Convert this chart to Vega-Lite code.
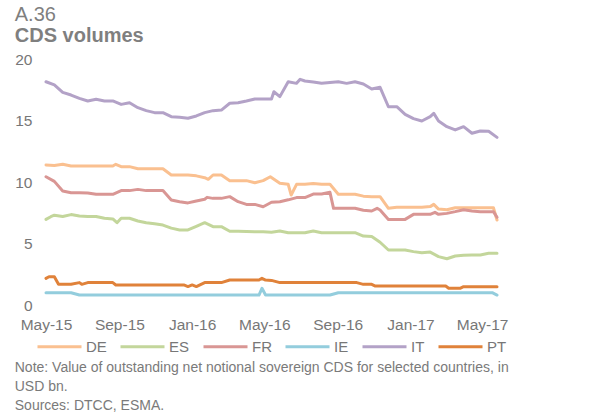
{
  "$schema": "https://vega.github.io/schema/vega-lite/v6.json",
  "background": "white",
  "padding": {"left": 14, "top": 5, "right": 5, "bottom": 0},
  "config": {
    "font": "Liberation Sans",
    "view": {"stroke": null},
    "concat": {"spacing": 0},
    "legend": {"layout": {"bottom": {"anchor": "middle"}}}
  },
  "title": {
    "text": ["Note: Value of outstanding net notional sovereign CDS for selected countries, in", "USD bn.", "Sources:  DTCC, ESMA."],
    "orient": "bottom",
    "anchor": "start",
    "frame": "bounds",
    "fontSize": 14,
    "fontWeight": "normal",
    "color": "#7a7a7a",
    "lineHeight": 19,
    "offset": 6
  },
  "vconcat": [
    {
      "title": {
        "text": "A.36",
        "subtitle": "CDS volumes",
        "anchor": "start",
        "frame": "bounds",
        "fontSize": 20,
        "fontWeight": "normal",
        "color": "#7f7f7f",
        "subtitleFontSize": 20,
        "subtitleFontWeight": "bold",
        "subtitleColor": "#7f7f7f",
        "subtitlePadding": 1,
        "offset": 6
      },
      "width": 451,
      "height": 246,
      "data": {
        "values": [
          {"d": "2015-05-01", "c": "IT", "v": 18.15}, {"d": "2015-05-15", "c": "IT", "v": 17.89}, {"d": "2015-05-29", "c": "IT", "v": 17.29}, {"d": "2015-06-12", "c": "IT", "v": 17.07}, {"d": "2015-06-26", "c": "IT", "v": 16.8}, {"d": "2015-07-10", "c": "IT", "v": 16.59}, {"d": "2015-07-24", "c": "IT", "v": 16.72}, {"d": "2015-08-07", "c": "IT", "v": 16.59}, {"d": "2015-08-21", "c": "IT", "v": 16.59}, {"d": "2015-09-04", "c": "IT", "v": 16.31}, {"d": "2015-09-18", "c": "IT", "v": 16.45}, {"d": "2015-10-02", "c": "IT", "v": 16.04}, {"d": "2015-10-16", "c": "IT", "v": 15.8}, {"d": "2015-10-30", "c": "IT", "v": 15.64}, {"d": "2015-11-13", "c": "IT", "v": 15.64}, {"d": "2015-11-27", "c": "IT", "v": 15.31}, {"d": "2015-12-11", "c": "IT", "v": 15.26}, {"d": "2015-12-25", "c": "IT", "v": 15.18}, {"d": "2016-01-08", "c": "IT", "v": 15.37}, {"d": "2016-01-22", "c": "IT", "v": 15.64}, {"d": "2016-02-05", "c": "IT", "v": 15.8}, {"d": "2016-02-19", "c": "IT", "v": 15.85}, {"d": "2016-03-04", "c": "IT", "v": 16.4}, {"d": "2016-03-18", "c": "IT", "v": 16.45}, {"d": "2016-04-01", "c": "IT", "v": 16.59}, {"d": "2016-04-15", "c": "IT", "v": 16.75}, {"d": "2016-04-29", "c": "IT", "v": 16.75}, {"d": "2016-05-13", "c": "IT", "v": 16.75}, {"d": "2016-05-17", "c": "IT", "v": 17.34}, {"d": "2016-05-27", "c": "IT", "v": 16.94}, {"d": "2016-06-10", "c": "IT", "v": 18.15}, {"d": "2016-06-24", "c": "IT", "v": 18.02}, {"d": "2016-06-30", "c": "IT", "v": 18.35}, {"d": "2016-07-08", "c": "IT", "v": 18.21}, {"d": "2016-07-22", "c": "IT", "v": 18.13}, {"d": "2016-08-05", "c": "IT", "v": 18.02}, {"d": "2016-08-19", "c": "IT", "v": 18.08}, {"d": "2016-09-02", "c": "IT", "v": 18.15}, {"d": "2016-09-16", "c": "IT", "v": 18.02}, {"d": "2016-09-30", "c": "IT", "v": 18.15}, {"d": "2016-10-14", "c": "IT", "v": 17.97}, {"d": "2016-10-28", "c": "IT", "v": 17.56}, {"d": "2016-11-11", "c": "IT", "v": 17.7}, {"d": "2016-11-25", "c": "IT", "v": 16.12}, {"d": "2016-12-09", "c": "IT", "v": 16.12}, {"d": "2016-12-23", "c": "IT", "v": 15.5}, {"d": "2017-01-06", "c": "IT", "v": 15.15}, {"d": "2017-01-20", "c": "IT", "v": 14.96}, {"d": "2017-02-03", "c": "IT", "v": 15.31}, {"d": "2017-02-09", "c": "IT", "v": 15.58}, {"d": "2017-02-17", "c": "IT", "v": 14.96}, {"d": "2017-03-03", "c": "IT", "v": 14.5}, {"d": "2017-03-17", "c": "IT", "v": 14.23}, {"d": "2017-03-31", "c": "IT", "v": 14.5}, {"d": "2017-04-14", "c": "IT", "v": 13.96}, {"d": "2017-04-28", "c": "IT", "v": 14.15}, {"d": "2017-05-12", "c": "IT", "v": 14.12}, {"d": "2017-05-26", "c": "IT", "v": 13.63},

          {"d": "2015-05-01", "c": "DE", "v": 11.38}, {"d": "2015-05-15", "c": "DE", "v": 11.35}, {"d": "2015-05-29", "c": "DE", "v": 11.44}, {"d": "2015-06-12", "c": "DE", "v": 11.3}, {"d": "2015-08-21", "c": "DE", "v": 11.3}, {"d": "2015-08-26", "c": "DE", "v": 11.44}, {"d": "2015-09-04", "c": "DE", "v": 11.25}, {"d": "2015-09-18", "c": "DE", "v": 11.25}, {"d": "2015-10-02", "c": "DE", "v": 11.08}, {"d": "2015-11-13", "c": "DE", "v": 11.08}, {"d": "2015-11-27", "c": "DE", "v": 10.57}, {"d": "2015-12-25", "c": "DE", "v": 10.57}, {"d": "2016-01-08", "c": "DE", "v": 10.5}, {"d": "2016-01-22", "c": "DE", "v": 10.35}, {"d": "2016-01-28", "c": "DE", "v": 10.22}, {"d": "2016-02-05", "c": "DE", "v": 10.57}, {"d": "2016-02-19", "c": "DE", "v": 10.57}, {"d": "2016-03-04", "c": "DE", "v": 10.11}, {"d": "2016-04-01", "c": "DE", "v": 10.11}, {"d": "2016-04-15", "c": "DE", "v": 9.94}, {"d": "2016-04-29", "c": "DE", "v": 10.11}, {"d": "2016-05-11", "c": "DE", "v": 10.43}, {"d": "2016-05-27", "c": "DE", "v": 9.9}, {"d": "2016-06-10", "c": "DE", "v": 9.81}, {"d": "2016-06-15", "c": "DE", "v": 8.94}, {"d": "2016-06-24", "c": "DE", "v": 9.81}, {"d": "2016-07-08", "c": "DE", "v": 9.81}, {"d": "2016-07-22", "c": "DE", "v": 9.88}, {"d": "2016-08-05", "c": "DE", "v": 9.81}, {"d": "2016-08-19", "c": "DE", "v": 9.81}, {"d": "2016-09-02", "c": "DE", "v": 9.0}, {"d": "2016-09-30", "c": "DE", "v": 9.0}, {"d": "2016-10-14", "c": "DE", "v": 8.85}, {"d": "2016-10-28", "c": "DE", "v": 8.81}, {"d": "2016-11-11", "c": "DE", "v": 8.81}, {"d": "2016-11-25", "c": "DE", "v": 7.86}, {"d": "2016-12-09", "c": "DE", "v": 7.94}, {"d": "2017-01-20", "c": "DE", "v": 7.94}, {"d": "2017-02-03", "c": "DE", "v": 8.0}, {"d": "2017-02-09", "c": "DE", "v": 8.18}, {"d": "2017-02-17", "c": "DE", "v": 7.8}, {"d": "2017-03-03", "c": "DE", "v": 7.75}, {"d": "2017-03-17", "c": "DE", "v": 7.91}, {"d": "2017-05-20", "c": "DE", "v": 7.91}, {"d": "2017-05-26", "c": "DE", "v": 6.91},

          {"d": "2015-05-01", "c": "FR", "v": 10.43}, {"d": "2015-05-15", "c": "FR", "v": 10.05}, {"d": "2015-05-29", "c": "FR", "v": 9.27}, {"d": "2015-06-12", "c": "FR", "v": 9.13}, {"d": "2015-06-26", "c": "FR", "v": 9.13}, {"d": "2015-07-10", "c": "FR", "v": 9.1}, {"d": "2015-07-24", "c": "FR", "v": 9.0}, {"d": "2015-08-21", "c": "FR", "v": 9.0}, {"d": "2015-09-04", "c": "FR", "v": 9.3}, {"d": "2015-09-18", "c": "FR", "v": 9.3}, {"d": "2015-10-02", "c": "FR", "v": 9.4}, {"d": "2015-10-16", "c": "FR", "v": 9.3}, {"d": "2015-11-13", "c": "FR", "v": 9.3}, {"d": "2015-11-27", "c": "FR", "v": 8.54}, {"d": "2015-12-11", "c": "FR", "v": 8.4}, {"d": "2015-12-25", "c": "FR", "v": 8.3}, {"d": "2016-01-08", "c": "FR", "v": 8.46}, {"d": "2016-01-22", "c": "FR", "v": 8.6}, {"d": "2016-01-26", "c": "FR", "v": 8.75}, {"d": "2016-02-05", "c": "FR", "v": 8.67}, {"d": "2016-02-19", "c": "FR", "v": 8.67}, {"d": "2016-03-04", "c": "FR", "v": 8.81}, {"d": "2016-03-18", "c": "FR", "v": 8.4}, {"d": "2016-04-01", "c": "FR", "v": 8.18}, {"d": "2016-04-15", "c": "FR", "v": 8.18}, {"d": "2016-04-29", "c": "FR", "v": 7.99}, {"d": "2016-05-13", "c": "FR", "v": 8.35}, {"d": "2016-05-27", "c": "FR", "v": 8.4}, {"d": "2016-06-10", "c": "FR", "v": 8.55}, {"d": "2016-06-24", "c": "FR", "v": 8.73}, {"d": "2016-07-08", "c": "FR", "v": 8.73}, {"d": "2016-07-22", "c": "FR", "v": 9.02}, {"d": "2016-08-05", "c": "FR", "v": 9.02}, {"d": "2016-08-19", "c": "FR", "v": 9.16}, {"d": "2016-08-25", "c": "FR", "v": 7.86}, {"d": "2016-09-30", "c": "FR", "v": 7.86}, {"d": "2016-10-14", "c": "FR", "v": 7.7}, {"d": "2016-10-28", "c": "FR", "v": 7.64}, {"d": "2016-11-06", "c": "FR", "v": 7.86}, {"d": "2016-11-11", "c": "FR", "v": 7.72}, {"d": "2016-11-25", "c": "FR", "v": 6.96}, {"d": "2016-12-23", "c": "FR", "v": 6.96}, {"d": "2017-01-06", "c": "FR", "v": 7.37}, {"d": "2017-02-03", "c": "FR", "v": 7.37}, {"d": "2017-02-11", "c": "FR", "v": 7.53}, {"d": "2017-02-17", "c": "FR", "v": 7.37}, {"d": "2017-03-03", "c": "FR", "v": 7.45}, {"d": "2017-03-17", "c": "FR", "v": 7.59}, {"d": "2017-03-31", "c": "FR", "v": 7.75}, {"d": "2017-04-14", "c": "FR", "v": 7.64}, {"d": "2017-04-28", "c": "FR", "v": 7.59}, {"d": "2017-05-20", "c": "FR", "v": 7.59}, {"d": "2017-05-26", "c": "FR", "v": 7.13},

          {"d": "2015-05-01", "c": "ES", "v": 6.96}, {"d": "2015-05-09", "c": "ES", "v": 7.18}, {"d": "2015-05-15", "c": "ES", "v": 7.3}, {"d": "2015-05-29", "c": "ES", "v": 7.2}, {"d": "2015-06-12", "c": "ES", "v": 7.35}, {"d": "2015-06-26", "c": "ES", "v": 7.24}, {"d": "2015-07-10", "c": "ES", "v": 7.2}, {"d": "2015-07-24", "c": "ES", "v": 7.2}, {"d": "2015-08-07", "c": "ES", "v": 7.05}, {"d": "2015-08-21", "c": "ES", "v": 7.0}, {"d": "2015-08-28", "c": "ES", "v": 6.69}, {"d": "2015-09-04", "c": "ES", "v": 7.05}, {"d": "2015-09-18", "c": "ES", "v": 7.05}, {"d": "2015-10-02", "c": "ES", "v": 6.83}, {"d": "2015-10-16", "c": "ES", "v": 6.69}, {"d": "2015-10-30", "c": "ES", "v": 6.6}, {"d": "2015-11-13", "c": "ES", "v": 6.5}, {"d": "2015-11-27", "c": "ES", "v": 6.25}, {"d": "2015-12-11", "c": "ES", "v": 6.1}, {"d": "2015-12-25", "c": "ES", "v": 6.1}, {"d": "2016-01-08", "c": "ES", "v": 6.4}, {"d": "2016-01-22", "c": "ES", "v": 6.69}, {"d": "2016-02-05", "c": "ES", "v": 6.37}, {"d": "2016-02-19", "c": "ES", "v": 6.37}, {"d": "2016-03-04", "c": "ES", "v": 6.0}, {"d": "2016-03-18", "c": "ES", "v": 6.0}, {"d": "2016-04-01", "c": "ES", "v": 5.98}, {"d": "2016-04-15", "c": "ES", "v": 5.96}, {"d": "2016-04-29", "c": "ES", "v": 5.96}, {"d": "2016-05-13", "c": "ES", "v": 5.92}, {"d": "2016-05-27", "c": "ES", "v": 6.02}, {"d": "2016-06-10", "c": "ES", "v": 5.88}, {"d": "2016-07-08", "c": "ES", "v": 5.88}, {"d": "2016-07-22", "c": "ES", "v": 6.02}, {"d": "2016-08-05", "c": "ES", "v": 5.88}, {"d": "2016-09-30", "c": "ES", "v": 5.88}, {"d": "2016-10-14", "c": "ES", "v": 5.6}, {"d": "2016-10-28", "c": "ES", "v": 5.56}, {"d": "2016-11-11", "c": "ES", "v": 5.1}, {"d": "2016-11-25", "c": "ES", "v": 4.47}, {"d": "2016-12-23", "c": "ES", "v": 4.47}, {"d": "2017-01-06", "c": "ES", "v": 4.34}, {"d": "2017-01-20", "c": "ES", "v": 4.25}, {"d": "2017-02-03", "c": "ES", "v": 4.3}, {"d": "2017-02-17", "c": "ES", "v": 3.93}, {"d": "2017-03-03", "c": "ES", "v": 3.76}, {"d": "2017-03-17", "c": "ES", "v": 3.98}, {"d": "2017-03-31", "c": "ES", "v": 4.05}, {"d": "2017-04-14", "c": "ES", "v": 4.07}, {"d": "2017-04-28", "c": "ES", "v": 4.07}, {"d": "2017-05-12", "c": "ES", "v": 4.2}, {"d": "2017-05-26", "c": "ES", "v": 4.2},

          {"d": "2015-05-01", "c": "PT", "v": 2.17}, {"d": "2015-05-06", "c": "PT", "v": 2.3}, {"d": "2015-05-15", "c": "PT", "v": 2.3}, {"d": "2015-05-22", "c": "PT", "v": 1.68}, {"d": "2015-06-12", "c": "PT", "v": 1.68}, {"d": "2015-06-26", "c": "PT", "v": 1.82}, {"d": "2015-06-30", "c": "PT", "v": 1.68}, {"d": "2015-07-10", "c": "PT", "v": 1.82}, {"d": "2015-08-21", "c": "PT", "v": 1.82}, {"d": "2015-08-26", "c": "PT", "v": 1.63}, {"d": "2015-12-18", "c": "PT", "v": 1.63}, {"d": "2015-12-25", "c": "PT", "v": 1.5}, {"d": "2016-01-01", "c": "PT", "v": 1.63}, {"d": "2016-01-08", "c": "PT", "v": 1.5}, {"d": "2016-01-22", "c": "PT", "v": 1.82}, {"d": "2016-02-19", "c": "PT", "v": 1.82}, {"d": "2016-03-04", "c": "PT", "v": 2.03}, {"d": "2016-04-22", "c": "PT", "v": 2.03}, {"d": "2016-04-27", "c": "PT", "v": 2.17}, {"d": "2016-05-03", "c": "PT", "v": 2.03}, {"d": "2016-05-13", "c": "PT", "v": 2.0}, {"d": "2016-05-27", "c": "PT", "v": 1.82}, {"d": "2016-10-03", "c": "PT", "v": 1.82}, {"d": "2016-10-14", "c": "PT", "v": 1.68}, {"d": "2016-10-28", "c": "PT", "v": 1.68}, {"d": "2016-11-03", "c": "PT", "v": 1.54}, {"d": "2017-03-01", "c": "PT", "v": 1.54}, {"d": "2017-03-06", "c": "PT", "v": 1.36}, {"d": "2017-03-25", "c": "PT", "v": 1.36}, {"d": "2017-03-31", "c": "PT", "v": 1.49}, {"d": "2017-05-26", "c": "PT", "v": 1.49},

          {"d": "2015-05-01", "c": "IE", "v": 1.0}, {"d": "2015-06-12", "c": "IE", "v": 1.0}, {"d": "2015-06-26", "c": "IE", "v": 0.81}, {"d": "2016-04-22", "c": "IE", "v": 0.81}, {"d": "2016-04-27", "c": "IE", "v": 1.36}, {"d": "2016-05-03", "c": "IE", "v": 0.81}, {"d": "2016-08-19", "c": "IE", "v": 0.81}, {"d": "2016-09-02", "c": "IE", "v": 1.0}, {"d": "2017-05-18", "c": "IE", "v": 1.0}, {"d": "2017-05-26", "c": "IE", "v": 0.81}
        ],
        "format": {"parse": {"d": "date:'%Y-%m-%d'"}}
      },
      "mark": {"type": "line", "strokeWidth": 3, "strokeJoin": "round", "strokeCap": "round"},
      "encoding": {
        "x": {
          "field": "d",
          "type": "temporal",
          "scale": {"domain": [{"year": 2015, "month": 5, "date": 1}, {"year": 2017, "month": 5, "date": 26}]},
          "axis": {
            "title": null,
            "values": [
              {"year": 2015, "month": 5, "date": 1}, {"year": 2015, "month": 9, "date": 1},
              {"year": 2016, "month": 1, "date": 1}, {"year": 2016, "month": 5, "date": 1},
              {"year": 2016, "month": 9, "date": 1}, {"year": 2017, "month": 1, "date": 1},
              {"year": 2017, "month": 5, "date": 1}
            ],
            "format": "%b-%y",
            "domain": false,
            "ticks": false,
            "grid": false,
            "labelFontSize": 15.5,
            "labelColor": "#777777",
            "labelPadding": 12,
            "labelOverlap": false,
            "labelFlush": false
          }
        },
        "y": {
          "field": "v",
          "type": "quantitative",
          "scale": {"domain": [0, 20], "nice": false},
          "axis": {
            "title": null,
            "values": [0, 5, 10, 15, 20],
            "domain": false,
            "ticks": false,
            "grid": false,
            "labelFontSize": 15.5,
            "labelColor": "#777777",
            "labelPadding": 14
          }
        },
        "color": {
          "field": "c",
          "type": "nominal",
          "scale": {
            "domain": ["DE", "ES", "FR", "IE", "IT", "PT"],
            "range": ["#FAC090", "#C3D69B", "#D99694", "#93CDDD", "#B3A2C7", "#E0823A"]
          },
          "legend": {
            "title": null,
            "orient": "bottom",
            "direction": "horizontal",
            "symbolType": "stroke",
            "symbolSize": 1936,
            "symbolStrokeWidth": 3,
            "labelFontSize": 15,
            "labelColor": "#777777",
            "labelOffset": 3,
            "columnPadding": 7,
            "offset": -10
          }
        }
      }
    }
  ]
}
